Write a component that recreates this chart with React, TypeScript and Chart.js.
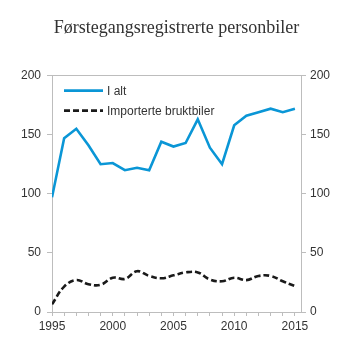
import React, { useEffect, useRef } from "react";
import { Chart, registerables } from "chart.js";

Chart.register(...registerables);

const years = [1995, 1996, 1997, 1998, 1999, 2000, 2001, 2002, 2003, 2004, 2005, 2006, 2007, 2008, 2009, 2010, 2011, 2012, 2013, 2014, 2015];
const iAlt = [97, 147, 155, 141, 125, 126, 120, 122, 120, 144, 140, 143, 163, 139, 125, 158, 166, 169, 172, 169, 172];
const importerte = [6.5, 21.5, 27, 23.5, 23, 29, 28, 34.5, 30.5, 28.5, 31, 33.5, 33.5, 27.5, 26, 29, 27, 30.5, 30.5, 26, 22];
const seriesLabels = ["I alt", "Importerte bruktbiler"];
const yTicks = [0, 50, 100, 150, 200];
const titleText = "Førstegangsregistrerte personbiler";

const AXIS = "#bdbdbd";
const TEXT = "#333333";

const legendPlugin = {
  id: "insideLegend",
  afterDraw(chart: any) {
    const { ctx, chartArea } = chart;
    ctx.save();
    chart.data.datasets.forEach((ds: any, i: number) => {
      const y = chartArea.top + 15 + i * 20;
      const x0 = chartArea.left + 12;
      const x1 = chartArea.left + 51;
      ctx.beginPath();
      ctx.strokeStyle = ds.borderColor;
      ctx.lineWidth = ds.borderWidth;
      ctx.setLineDash(ds.borderDash || []);
      ctx.moveTo(x0, y);
      ctx.lineTo(x1, y);
      ctx.stroke();
      ctx.setLineDash([]);
      ctx.fillStyle = TEXT;
      ctx.font = "12px 'Liberation Sans', Arial, sans-serif";
      ctx.textBaseline = "middle";
      ctx.textAlign = "left";
      ctx.fillText(ds.label, x1 + 4, y + 1);
    });
    ctx.restore();
  },
};

export default function App() {
  const ref = useRef<HTMLCanvasElement | null>(null);
  useEffect(() => {
    if (!ref.current) return;
    const font = { family: "'Liberation Sans', Arial, sans-serif", size: 12 };
    const chart = new Chart(ref.current, {
      type: "line",
      data: {
        datasets: [
          {
            label: seriesLabels[0],
            data: years.map((x, i) => ({ x, y: iAlt[i] })),
            borderColor: "#0a96d6",
            borderWidth: 2.6,
            pointRadius: 0,
            tension: 0,
            fill: false,
          },
          {
            label: seriesLabels[1],
            data: years.map((x, i) => ({ x, y: importerte[i] })),
            borderColor: "#1a1a1a",
            borderWidth: 2.6,
            borderDash: [6, 3],
            pointRadius: 0,
            tension: 0.4,
            fill: false,
          },
        ],
      },
      options: {
        animation: false,
        responsive: false,
        layout: { padding: { left: 0, right: 0, top: 0, bottom: 0 } },
        plugins: {
          legend: { display: false },
          tooltip: { enabled: false },
          title: {
            display: true,
            text: titleText,
            color: TEXT,
            font: { family: "'Liberation Serif', 'Times New Roman', serif", size: 18, weight: "normal" },
            padding: { top: 17, bottom: 37 },
          },
        },
        scales: {
          x: {
            type: "linear",
            min: 1995,
            max: 2015.5,
            ticks: {
              stepSize: 1,
              includeBounds: false,
              autoSkip: false,
              maxRotation: 0,
              color: TEXT,
              font,
              padding: 3,
              callback: (v: any) => (Number(v) % 5 === 0 ? String(v) : ""),
            },
            grid: { drawOnChartArea: false, color: AXIS, tickLength: 4 },
            border: { color: AXIS },
            afterFit: (s: any) => { s.height = 41; },
          },
          y: {
            position: "left",
            min: 0,
            max: 200,
            afterBuildTicks: (s: any) => { s.ticks = yTicks.map((value) => ({ value })); },
            ticks: { color: TEXT, font, padding: 6 },
            grid: {
              color: (c: any) => (c.tick && c.tick.value === 200 ? AXIS : "transparent"),
              tickColor: AXIS,
              tickLength: 5,
            },
            border: { color: AXIS },
            afterFit: (s: any) => { s.width = 52; },
          },
          y2: {
            position: "right",
            min: 0,
            max: 200,
            afterBuildTicks: (s: any) => { s.ticks = yTicks.map((value) => ({ value })); },
            ticks: { color: TEXT, font, padding: 4 },
            grid: { drawOnChartArea: false, color: AXIS, tickLength: 5 },
            border: { color: AXIS },
            afterFit: (s: any) => { s.width = 52; },
          },
        },
      },
      plugins: [legendPlugin],
    });
    return () => chart.destroy();
  }, []);
  return (
    <div style={{ position: "fixed", left: 0, top: 0, width: 353, height: 353, background: "#fff" }}>
      <canvas ref={ref} width={353} height={353} style={{ width: 353, height: 353 }} />
    </div>
  );
}
